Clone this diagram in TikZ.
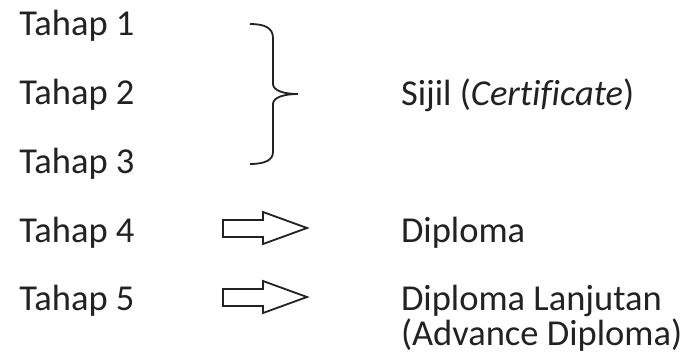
\documentclass[tikz,border=0pt]{standalone}
\usepackage{fontspec}
\setmainfont[Ligatures=NoCommon]{Carlito}
\definecolor{ink}{HTML}{222222}
\begin{document}
\begin{tikzpicture}[x=1pt,y=-1pt,
  lbl/.style={anchor=base west,inner sep=0pt,outer sep=0pt,text=ink,font=\fontsize{36.5}{35}\selectfont},
  lines/.style={line width=1.8pt,draw=ink,line join=miter},
]
\useasboundingbox (0,0) rectangle (694,362);
\node[lbl] (t1) at (19.5,35) {Tahap 1};
\node[lbl] (t2) at (19.5,104) {Tahap 2};
\node[lbl] (t3) at (19.5,173) {Tahap 3};
\node[lbl] (t4) at (19.5,242) {Tahap 4};
\node[lbl] (t5) at (19.5,310) {Tahap 5};
\node[lbl] (sijil) at (401,105) {Sijil (\textit{Certificate})};
\node[lbl] (dip) at (401,242) {Diploma};
\node[lbl] (dipl) at (401,310) {Diploma Lanjutan};
\node[lbl] (adv) at (401,345) {(Advance Diploma)};
% brace
\draw[lines] (250,24) .. controls (265,24) and (273,28) .. (273,38) -- (273,84)
  .. controls (273,91) and (285,94) .. (298,94)
  .. controls (285,94) and (273,97) .. (273,104) -- (273,152)
  .. controls (273,160) and (265,164) .. (250,164);
% arrows
\draw[lines] (223,220) -- (263,220) -- (263,212) -- (307,228) -- (263,244) -- (263,237) -- (223,237) -- cycle;
\draw[lines] (223,289) -- (263,289) -- (263,281) -- (307,297) -- (263,313) -- (263,306) -- (223,306) -- cycle;
\end{tikzpicture}
\end{document}
